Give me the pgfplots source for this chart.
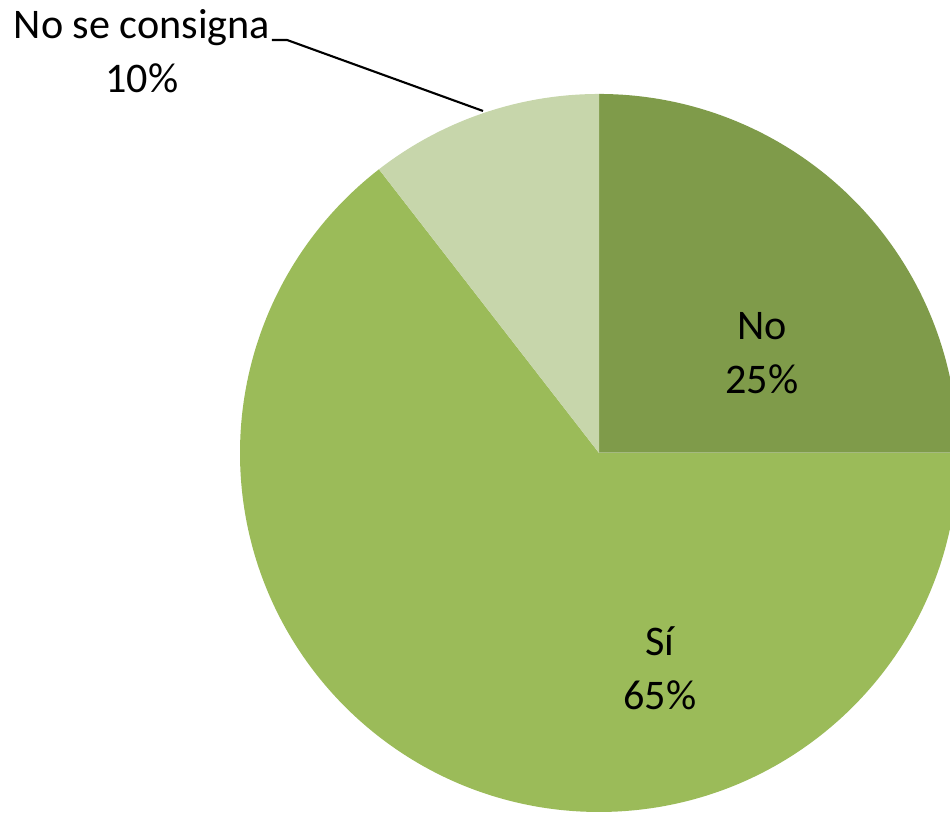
\documentclass[border=0pt]{standalone}
\usepackage{fontspec}
\setmainfont{Carlito}
\usepackage{pgfplots}
\usepackage{pgfplotstable}
\pgfplotsset{compat=1.18}
\definecolor{cNo}{HTML}{7F9B4A}
\definecolor{cSi}{HTML}{9BBB59}
\definecolor{cNs}{HTML}{C7D6AB}
\pgfplotstableread{
label value
No 25
Si 64.5
NS 10.5
}\piedata
\begin{document}
\begin{tikzpicture}
\pgfplotstablegetelem{0}{value}\of\piedata \let\vA\pgfplotsretval
\pgfplotstablegetelem{1}{value}\of\piedata \let\vB\pgfplotsretval
\pgfplotstablegetelem{2}{value}\of\piedata \let\vC\pgfplotsretval
\pgfmathsetmacro\aA{90}
\pgfmathsetmacro\aB{90-3.6*\vA}
\pgfmathsetmacro\aC{\aB-3.6*\vB}
\pgfmathsetmacro\aD{\aC-3.6*\vC}
\def\R{3.59cm}
\begin{axis}[
  x=3.59cm, y=3.59cm,
  xmin=-1.6685, xmax=0.9777,
  ymin=-1.0084, ymax=1.2618,
  hide axis, clip=true,
]
\path (rel axis cs:0,0) rectangle (rel axis cs:1,1);
\fill[cNo] (axis cs:0,0) -- (axis cs:{cos(\aA)},{sin(\aA)}) arc[start angle=\aA, end angle=\aB, radius=\R] -- cycle;
\fill[cSi] (axis cs:0,0) -- (axis cs:{cos(\aB)},{sin(\aB)}) arc[start angle=\aB, end angle=\aC, radius=\R] -- cycle;
\fill[cNs] (axis cs:0,0) -- (axis cs:{cos(\aC)},{sin(\aC)}) arc[start angle=\aC, end angle=\aD, radius=\R] -- cycle;
\draw[white!30!cNo, line width=0.3pt] (axis cs:0,0) -- (axis cs:{cos(\aB)},{sin(\aB)});
\node[align=center, font=\fontsize{12}{15.4}\selectfont] at (axis cs:0.454,0.279) {No\\25\%};
\node[align=center, font=\fontsize{12}{15.4}\selectfont] at (axis cs:0.170,-0.599) {Sí\\65\%};
\node[align=center, font=\fontsize{12}{15.4}\selectfont] at (axis cs:-1.273,1.120) {No se consigna\\10\%};
\draw[black, line width=0.6pt] (axis cs:-0.9109,1.1504) -- (axis cs:-0.8691,1.1504) -- (axis cs:-0.3231,0.9526);
\end{axis}
\end{tikzpicture}
\end{document}
